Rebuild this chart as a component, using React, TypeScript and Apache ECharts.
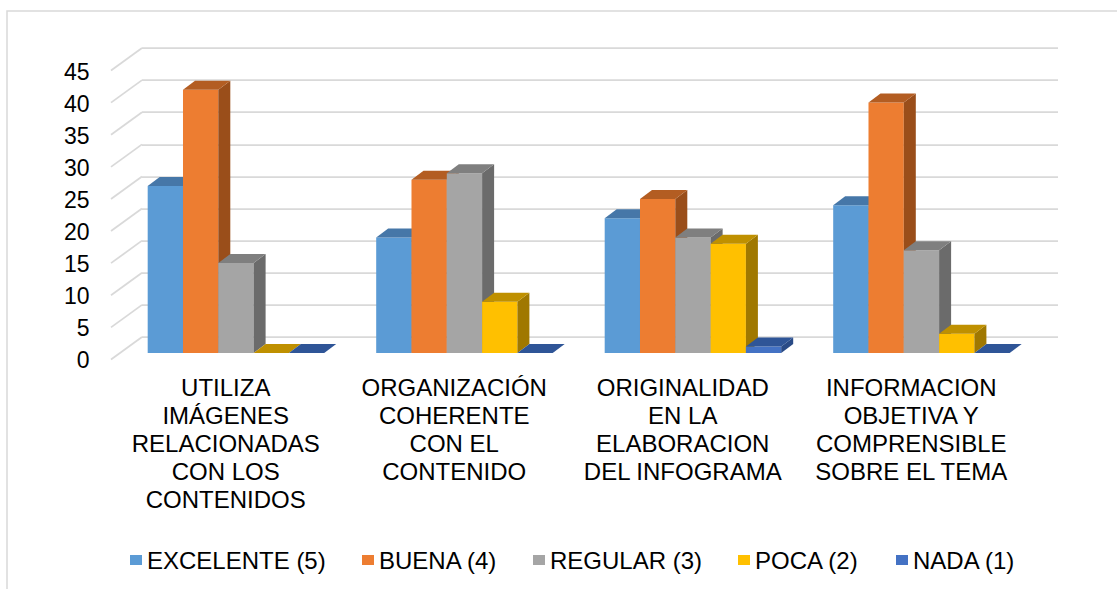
import React, { useEffect, useRef } from "react";
import * as echarts from "echarts";

const categories = [
  "UTILIZA\nIMÁGENES\nRELACIONADAS\nCON LOS\nCONTENIDOS",
  "ORGANIZACIÓN\nCOHERENTE\nCON EL\nCONTENIDO",
  "ORIGINALIDAD\nEN LA\nELABORACION\nDEL INFOGRAMA",
  "INFORMACION\nOBJETIVA Y\nCOMPRENSIBLE\nSOBRE EL TEMA",
];
const seriesNames = ["EXCELENTE (5)", "BUENA (4)", "REGULAR (3)", "POCA (2)", "NADA (1)"];
const excelente = [26, 18, 21, 23];
const buena = [41, 27, 24, 39];
const regular = [14, 28, 18, 16];
const poca = [0, 8, 17, 3];
const nada = [0, 0, 1, 0];
const yTicks = [0, 5, 10, 15, 20, 25, 30, 35, 40, 45];

const seriesValues = [excelente, buena, regular, poca, nada];
const frontColors = ["#5B9BD5", "#ED7D31", "#A5A5A5", "#FFC000", "#4472C4"];
const topColors = ["#4677A8", "#B35D22", "#7F7F7F", "#BF9000", "#2F5597"];
const sideColors = ["#3A6591", "#9A4E1A", "#6B6B6B", "#A07800", "#2A4B86"];
const legendLefts = [125, 357, 528, 733, 891];

const FONT = "'Liberation Sans', Arial, Helvetica, sans-serif";
const DX = 12;
const DY = 9;

export default function App() {
  const ref = useRef<HTMLDivElement>(null);
  useEffect(() => {
    if (!ref.current) return;
    const chart = echarts.init(ref.current, undefined, { renderer: "svg" });
    const barSeries = seriesValues.map((vals, i) => ({
      type: "custom",
      name: seriesNames[i],
      xAxisIndex: 1,
      yAxisIndex: 1,
      itemStyle: { color: frontColors[i] },
      data: vals.map((v, c) => [c, v]),
      renderItem: (params: any, api: any) => {
        const c = api.value(0);
        const v = api.value(1);
        const top = api.coord([c, v]);
        const base = api.coord([c, 0]);
        const band = api.size([1, 0])[0];
        const bw = band * 0.1545;
        const gw = bw * 5;
        const x = top[0] - gw / 2 + i * bw;
        const yT = top[1];
        const yB = base[1];
        const children: any[] = [];
        if (yB - yT > 0.1) {
          children.push({
            type: "rect",
            shape: { x, y: yT, width: bw, height: yB - yT },
            style: { fill: frontColors[i] },
          });
          children.push({
            type: "polygon",
            shape: {
              points: [
                [x + bw, yT],
                [x + bw + DX, yT - DY],
                [x + bw + DX, yB - DY],
                [x + bw, yB],
              ],
            },
            style: { fill: sideColors[i] },
          });
        }
        children.push({
          type: "polygon",
          shape: {
            points: [
              [x, yT],
              [x + DX, yT - DY],
              [x + bw + DX, yT - DY],
              [x + bw, yT],
            ],
          },
          style: { fill: topColors[i] },
        });
        return { type: "group", children };
      },
    }));

    const option: any = {
      animation: false,
      backgroundColor: "#ffffff",
      textStyle: { fontFamily: FONT },
      graphic: [
        {
          type: "rect",
          shape: { x: 7, y: 11, width: 1300, height: 800 },
          style: { fill: "none", stroke: "#d9d9d9", lineWidth: 1.5 },
          silent: true,
        },
      ],
      legend: seriesNames.map((n, i) => ({
        data: [n],
        left: legendLefts[i],
        top: 543,
        icon: "rect",
        itemWidth: 12,
        itemHeight: 10,
        selectedMode: false,
        textStyle: { fontSize: 24, color: "#000000", fontFamily: FONT },
      })),
      grid: [
        { left: 142, right: 59, top: 48, bottom: 252 },
        { left: 121.7, width: 914, top: 64.1, bottom: 236 },
        { left: 111.5, width: 914, top: 71.5, bottom: 229.5 },
      ],
      xAxis: [
        { type: "category", gridIndex: 0, data: categories, show: false },
        { type: "category", gridIndex: 1, data: categories, show: false },
        {
          type: "category",
          gridIndex: 2,
          data: categories,
          axisLine: { show: false },
          axisTick: { show: false },
          axisLabel: {
            interval: 0,
            margin: 14,
            fontSize: 24,
            lineHeight: 28,
            color: "#000000",
            fontFamily: FONT,
            align: "center",
          },
        },
      ],
      yAxis: [
        {
          type: "value",
          gridIndex: 0,
          min: 0,
          max: 45,
          interval: 5,
          axisLabel: { show: false },
          axisLine: { show: false },
          axisTick: { show: false },
          splitLine: { show: true, lineStyle: { color: "#d9d9d9", width: 1.75 } },
        },
        { type: "value", gridIndex: 1, min: 0, max: 45, interval: 5, show: false, splitLine: { show: false } },
        {
          type: "value",
          gridIndex: 2,
          min: 0,
          max: 45,
          interval: 5,
          axisLine: { show: false },
          axisTick: { show: false },
          splitLine: { show: false },
          axisLabel: { margin: 22, fontSize: 23, color: "#000000", fontFamily: FONT },
        },
      ],
      series: [
        {
          type: "custom",
          name: "grid-diag",
          xAxisIndex: 0,
          yAxisIndex: 0,
          silent: true,
          data: yTicks.map((v) => [0, v]),
          renderItem: (params: any, api: any) => {
            const pt = api.coord([0, api.value(1)]);
            const cs = params.coordSys;
            return {
              type: "line",
              shape: { x1: cs.x - 31, y1: pt[1] + 22.5, x2: cs.x, y2: pt[1] },
              style: { stroke: "#d9d9d9", lineWidth: 1.75 },
            };
          },
        },
        ...barSeries,
      ],
    };
    chart.setOption(option);
    return () => chart.dispose();
  }, []);
  return (
    <div
      ref={ref}
      style={{ position: "absolute", left: 0, top: 0, width: 1117, height: 589, background: "#fff" }}
    />
  );
}
